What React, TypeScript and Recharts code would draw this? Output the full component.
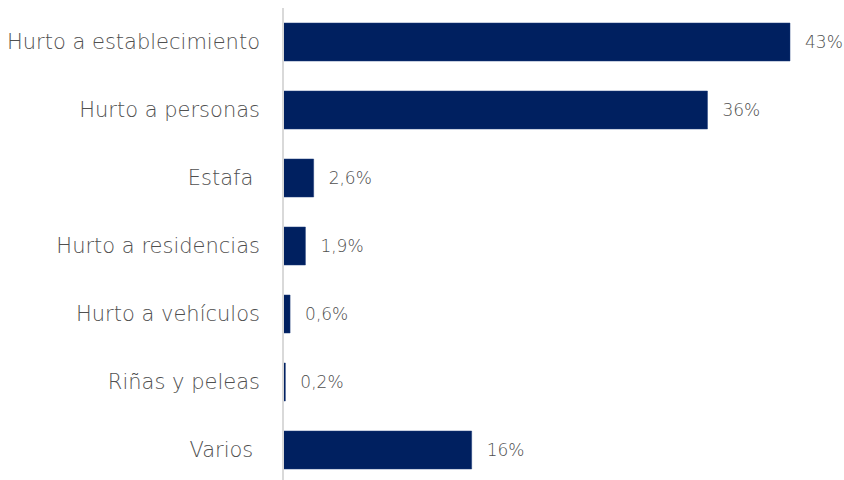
import React from "react";
import { BarChart, Bar, XAxis, YAxis, LabelList } from "recharts";

const categories = [
  "Hurto a establecimiento",
  "Hurto a personas",
  "Estafa ",
  "Hurto a residencias",
  "Hurto a vehículos",
  "Riñas y peleas",
  "Varios ",
];
const values = [43, 36, 2.6, 1.9, 0.6, 0.2, 16];
const valueLabels = ["43%", "36%", "2,6%", "1,9%", "0,6%", "0,2%", "16%"];

const data = categories.map((c, i) => ({ name: c, value: values[i], label: valueLabels[i] }));

const FONT = "'DejaVu Sans', sans-serif";

const Tick = (props: any) => {
  const { x, y, payload } = props;
  return (
    <text
      x={x}
      y={y}
      dy={7}
      textAnchor="end"
      fill="#505050"
      fontFamily={FONT}
      fontWeight={200}
      fontSize={21}
      style={{ whiteSpace: "pre" }}
    >
      {payload.value}
    </text>
  );
};

export default function App() {
  return (
    <div style={{ position: "absolute", left: 0, top: 0, width: 844, height: 480, overflow: "hidden", background: "#fff" }}>
      <BarChart
        width={844}
        height={484}
        data={data}
        layout="vertical"
        margin={{ top: 8, right: 54, bottom: 0, left: 0 }}
        barSize={38}
      >
        <XAxis type="number" domain={[0, 43]} hide />
        <YAxis
          type="category"
          dataKey="name"
          width={283}
          axisLine={{ stroke: "#d9d9d9", strokeWidth: 2 }}
          tickLine={false}
          tickSize={0}
          tickMargin={23}
          tick={<Tick />}
          interval={0}
        />
        <Bar dataKey="value" fill="#002060" stroke="#1a3a78" strokeWidth={0.5} isAnimationActive={false}>
          <LabelList
            dataKey="label"
            position="right"
            offset={15}
            fill="#505050"
            fontFamily={FONT}
            fontWeight={200}
            fontSize={17}
          />
        </Bar>
      </BarChart>
    </div>
  );
}
